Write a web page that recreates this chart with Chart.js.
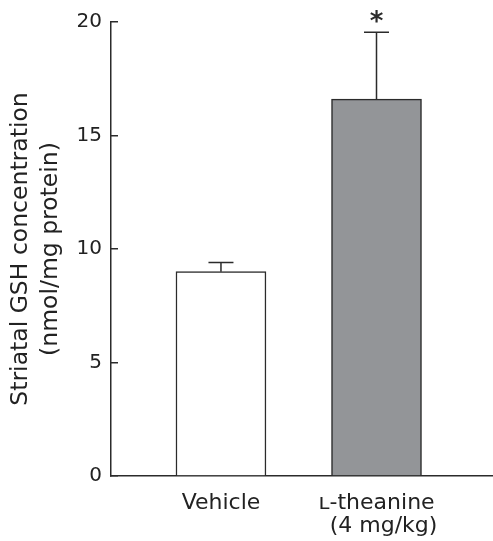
<!DOCTYPE html>
<html>
<head>
<meta charset="utf-8">
<script src="https://cdn.jsdelivr.net/npm/chart.js@4"></script>
<style>
  html, body { margin: 0; padding: 0; background: #fff; }
  canvas { display: block; }
</style>
</head>
<body>
<canvas id="gshChart" width="493" height="541"></canvas>
<script>
// DATA
const categories = ['Vehicle', 'ʟ-theanine'];
const subLabels = ['', '  (4 mg/kg)'];
const gshMeans = [9.0, 16.6];
const gshSem = [0.4, 2.95];
const significance = ['', '*'];
const yTicks = [0, 5, 10, 15, 20];

const FONT = 'DejaVu Sans';
const INK = '#2b2b2b';

// error bars + asterisk
const errorBars = {
  id: 'errorBars',
  afterDatasetsDraw(chart) {
    const ctx = chart.ctx;
    const yScale = chart.scales.y;
    const meta = chart.getDatasetMeta(0);
    ctx.save();
    ctx.strokeStyle = INK;
    ctx.lineWidth = 1.5;
    meta.data.forEach((bar, i) => {
      const top = yScale.getPixelForValue(gshMeans[i] + gshSem[i]);
      ctx.beginPath();
      ctx.moveTo(bar.x, bar.y);
      ctx.lineTo(bar.x, top);
      ctx.moveTo(bar.x - 12.5, top);
      ctx.lineTo(bar.x + 12.5, top);
      ctx.stroke();
      if (significance[i]) {
        ctx.fillStyle = INK;
        ctx.font = 'bold 26px "' + FONT + '"';
        ctx.textAlign = 'center';
        ctx.textBaseline = 'alphabetic';
        ctx.fillText(significance[i], bar.x, top - 2);
      }
    });
    ctx.restore();
  }
};

const ctx = document.getElementById('gshChart').getContext('2d');
const chart = new Chart(ctx, {
  type: 'bar',
  data: {
    datasets: [{
      data: gshMeans.map((v, i) => ({ x: i, y: v })),
      backgroundColor: ['#ffffff', '#939598'],
      borderColor: INK,
      borderWidth: 1.5,
      borderSkipped: 'bottom',
      barThickness: 90
    }]
  },
  options: {
    responsive: false,
    animation: false,
    layout: { padding: { top: 22, right: 0, left: 0, bottom: 0 } },
    plugins: {
      legend: { display: false },
      tooltip: { enabled: false }
    },
    scales: {
      x: {
        type: 'linear',
        offset: false,
        min: -0.707,
        max: 1.749,
        afterBuildTicks: (scale) => {
          scale.ticks = categories.map((c, i) => ({ value: i }));
        },
        afterFit: (scale) => { scale.height = 65; },
        grid: { display: false, drawTicks: false },
        border: { display: true, color: INK, width: 1.5 },
        ticks: {
          padding: 16,
          color: '#222',
          font: { family: FONT, size: 22, lineHeight: 1.03 },
          maxRotation: 0,
          callback: (value) => {
            const i = Math.round(value);
            return subLabels[i] ? [categories[i], subLabels[i]] : categories[i];
          }
        }
      },
      y: {
        min: 0,
        max: 20,
        afterBuildTicks: (scale) => {
          scale.ticks = yTicks.map(v => ({ value: v }));
        },
        afterFit: (scale) => {
          scale.width = 111;
          scale.paddingTop = 0;
          scale.paddingBottom = 0;
        },
        grid: {
          drawOnChartArea: false,
          drawTicks: true,
          tickLength: -7,
          color: INK,
          lineWidth: 1.5
        },
        border: { display: true, color: INK, width: 1.5 },
        ticks: {
          padding: 16,
          color: '#222',
          font: { family: FONT, size: 20 }
        },
        title: {
          display: true,
          text: ['Striatal GSH concentration', '(nmol/mg protein)'],
          color: '#222',
          font: { family: FONT, size: 23.5, lineHeight: 1.28 },
          padding: { top: 6, bottom: 0 }
        }
      }
    }
  },
  plugins: [errorBars]
});
</script>
</body>
</html>
